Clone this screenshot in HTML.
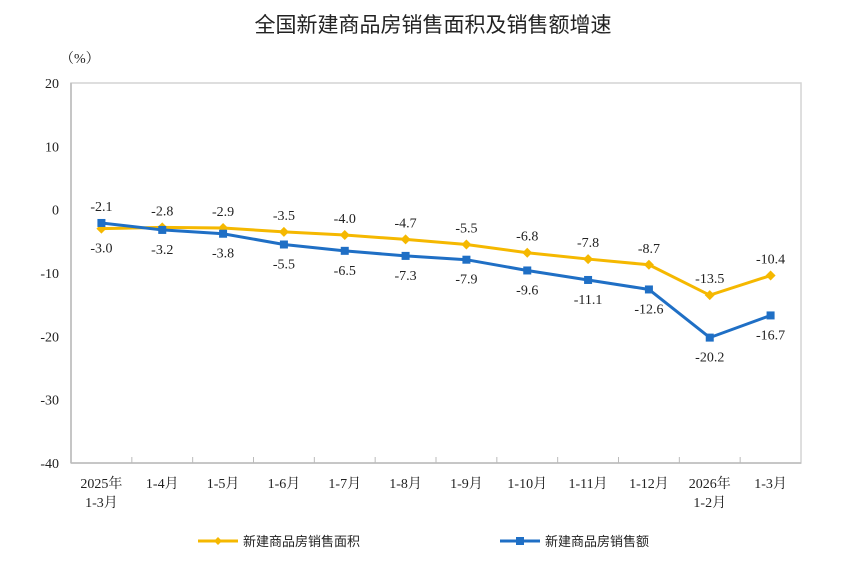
<!DOCTYPE html>
<html><head><meta charset="utf-8">
<style>
body{margin:0;background:#fff;}
svg text{font-family:"Liberation Serif","Noto Serif CJK SC",serif;fill:#222;}
</style></head>
<body>
<svg width="843" height="567" viewBox="0 0 843 567">
<text x="433" y="32" text-anchor="middle" font-size="21" style="font-family:'Liberation Sans','Noto Sans CJK SC',sans-serif">全国新建商品房销售面积及销售额增速</text>
<text x="60" y="63" font-size="14">（%）</text>
<rect x="71" y="83" width="730" height="380" fill="none" stroke="#d4d4d4" stroke-width="1.5"/>
<g id="axes"></g>
<g id="series"></g>
<g>
<line x1="198" y1="541" x2="238" y2="541" stroke="#f5b800" stroke-width="3"/>
<path d="M218 537 L222 541 L218 545 L214 541Z" fill="#f5b800"/>
<text x="243" y="546" font-size="13" style="font-family:'Liberation Sans','Noto Sans CJK SC',sans-serif">新建商品房销售面积</text>
<line x1="500" y1="541" x2="540" y2="541" stroke="#1f6fc5" stroke-width="3"/>
<rect x="516" y="537" width="8" height="8" fill="#1f6fc5"/>
<text x="545" y="546" font-size="13" style="font-family:'Liberation Sans','Noto Sans CJK SC',sans-serif">新建商品房销售额</text>
</g>
</svg>
<script>
const categories=[["2025年","1-3月"],["1-4月"],["1-5月"],["1-6月"],["1-7月"],["1-8月"],["1-9月"],["1-10月"],["1-11月"],["1-12月"],["2026年","1-2月"],["1-3月"]];
const areaValues=[-3.0,-2.8,-2.9,-3.5,-4.0,-4.7,-5.5,-6.8,-7.8,-8.7,-13.5,-10.4];
const salesValues=[-2.1,-3.2,-3.8,-5.5,-6.5,-7.3,-7.9,-9.6,-11.1,-12.6,-20.2,-16.7];
const yTicks=[20,10,0,-10,-20,-30,-40];
const NS="http://www.w3.org/2000/svg";
const L=71,R=801,T=83,B=463,yMax=20,yMin=-40;
const step=(R-L)/categories.length;
const x=i=>L+step*(i+0.5);
const y=v=>T+(yMax-v)/(yMax-yMin)*(B-T);
function mk(tag,attrs,parent){const e=document.createElementNS(NS,tag);for(const k in attrs)e.setAttribute(k,attrs[k]);parent.appendChild(e);return e;}
const ax=document.getElementById('axes');
let e=mk('line',{x1:L,y1:T,x2:L,y2:B,stroke:'#bbb','stroke-width':1.5},ax);


e=mk('line',{x1:L,y1:B,x2:R,y2:B,stroke:'#bbb','stroke-width':1.5},ax);


yTicks.forEach(v=>{const t=mk('text',{x:L-12,y:y(v)+5,'text-anchor':'end','font-size':14},ax);t.textContent=v;

});
categories.forEach((c,i)=>{
 if(i>0){const tk=mk('line',{x1:L+step*i,y1:B,x2:L+step*i,y2:B-6,stroke:'#bbb'},ax);
 
 }
 c.forEach((s,j)=>{const t=mk('text',{x:x(i),y:B+25+j*19,'text-anchor':'middle','font-size':14},ax);t.textContent=s;
 
 });
});
const sg=document.getElementById('series');
function series(vals,color,name,marker,labelAbove){
 const p=mk('polyline',{points:vals.map((v,i)=>x(i)+','+y(v)).join(' '),fill:'none',stroke:color,'stroke-width':3},sg);
 
 
 vals.forEach((v,i)=>{
  const cx=x(i),cy=y(v);let m;
  if(marker==='d')m=mk('path',{d:`M${cx} ${cy-5}L${cx+5} ${cy}L${cx} ${cy+5}L${cx-5} ${cy}Z`,fill:color},sg);
  else m=mk('rect',{x:cx-4,y:cy-4,width:8,height:8,fill:color},sg);
  
  
  const up=labelAbove(i);
  const t=mk('text',{x:cx,y:up?cy-12:cy+24,'text-anchor':'middle','font-size':14},sg);
  t.textContent=v.toFixed(1);
  
  
 });
}
series(areaValues,'#f5b800','area','d',i=>i!==0);
series(salesValues,'#1f6fc5','sales','s',i=>i===0);
</script>
</body></html>
